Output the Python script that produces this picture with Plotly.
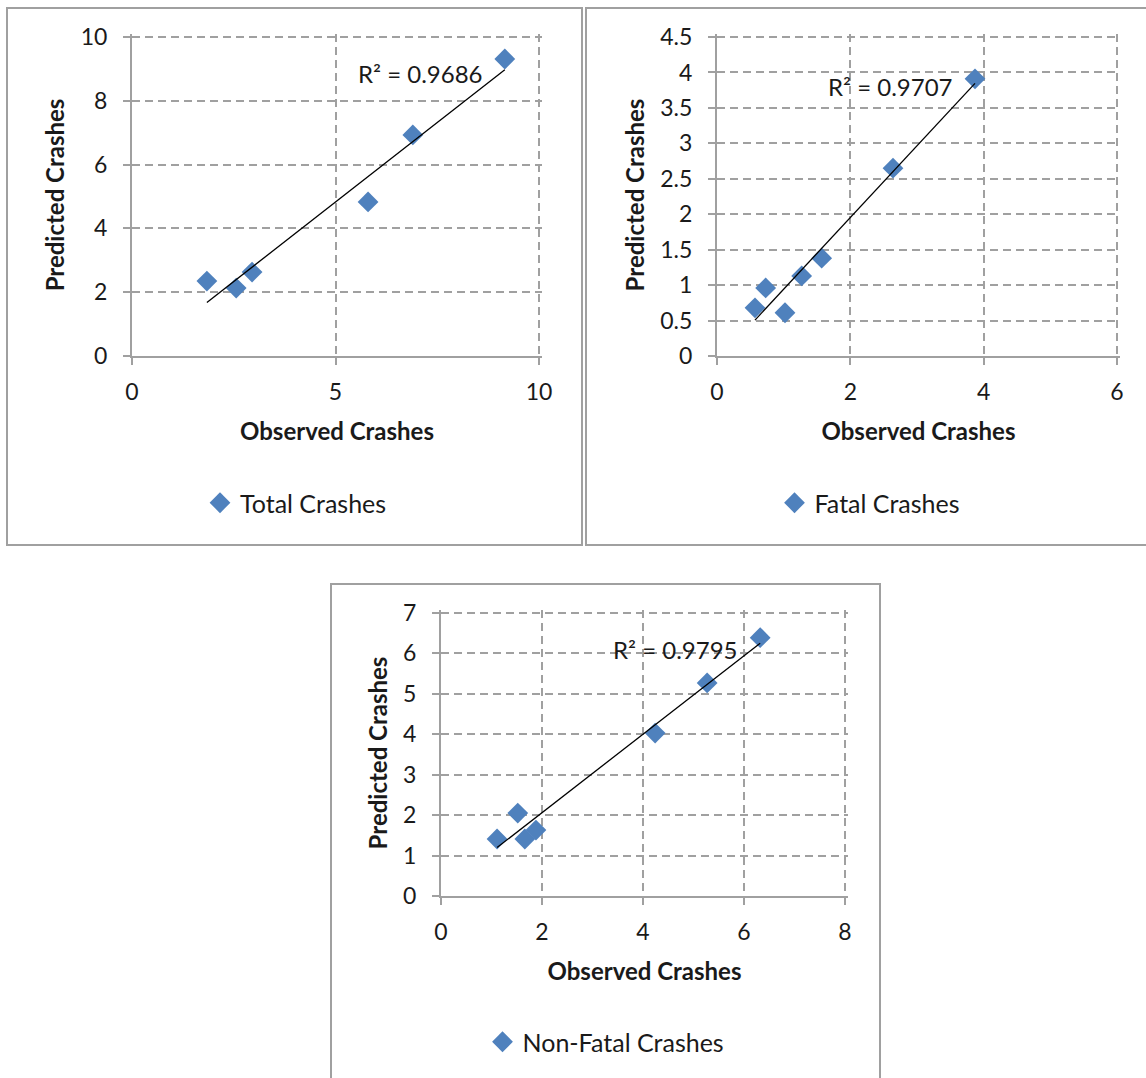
import numpy as np
import plotly.graph_objects as go

W, H = 1146, 1078

# ---------------- data ----------------
total_obs = [1.84, 2.56, 2.95, 5.80, 6.90, 9.16]
total_pred = [2.35, 2.13, 2.63, 4.83, 6.93, 9.31]

fatal_obs = [0.57, 0.73, 1.02, 1.27, 1.57, 2.64, 3.87]
fatal_pred = [0.68, 0.96, 0.61, 1.13, 1.38, 2.65, 3.91]

nonfatal_obs = [1.11, 1.52, 1.66, 1.88, 4.24, 5.27, 6.32]
nonfatal_pred = [1.41, 2.05, 1.41, 1.63, 4.03, 5.27, 6.39]

series_names = ["Total Crashes", "Fatal Crashes", "Non-Fatal Crashes"]
r2_labels = ["R² = 0.9686", "R² = 0.9707", "R² = 0.9795"]
x_ranges = [[0, 10], [0, 6], [0, 8]]
y_ranges = [[0, 10], [0, 4.5], [0, 7]]
x_dticks = [5, 2, 2]
y_dticks = [2, 0.5, 1]
x_title = "Observed Crashes"
y_title = "Predicted Crashes"

# ---------------- style ----------------
FONT = "Lato, Carlito, Calibri, sans-serif"
TXT = "#1a1a1a"
GRID = "#a0a0a0"
BLUE = "#4f81bd"
EXT = 3  # px added beyond the last tick so its gridline is drawn


def px_x(p):
    return p / W


def px_y(p):
    return 1 - p / H


# plot-area pixel boxes (left, right, top, bottom)
areas = [(132, 539, 37, 356), (717, 1117, 37, 356), (441, 845, 613, 896)]
legend_pos = [(296, 503), (870, 503), (606, 1042)]
r2_pos = [(7.1, 8.85), (2.6, 3.8), (4.64, 6.1)]

fig = go.Figure()
datasets = [(total_obs, total_pred), (fatal_obs, fatal_pred), (nonfatal_obs, nonfatal_pred)]

for i, (xs, ys) in enumerate(datasets):
    sfx = "" if i == 0 else str(i + 1)
    xa, ya = "x" + sfx, "y" + sfx
    lg = "legend" + sfx
    fig.add_trace(go.Scatter(
        x=xs, y=ys, mode="markers", name=series_names[i],
        marker=dict(symbol="diamond", size=16, color=BLUE),
        xaxis=xa, yaxis=ya, legend=lg, showlegend=True, cliponaxis=False))
    # linear trendline fitted to the data
    xa_np, ya_np = np.array(xs), np.array(ys)
    m, b = np.polyfit(xa_np, ya_np, 1)
    xt = np.array([xa_np.min(), xa_np.max()])
    fig.add_trace(go.Scatter(
        x=xt, y=m * xt + b, mode="lines", line=dict(color="black", width=1.3),
        xaxis=xa, yaxis=ya, showlegend=False, hoverinfo="skip"))

    l, r, t, btm = areas[i]
    xr, yr = x_ranges[i], y_ranges[i]
    x_ext = EXT * (xr[1] - xr[0]) / (r - l)
    y_ext = EXT * (yr[1] - yr[0]) / (btm - t)
    axis_common = dict(
        showgrid=True, gridcolor=GRID, griddash="8px,5px", gridwidth=1.6,
        showline=True, linecolor=GRID, linewidth=2,
        ticks="outside", ticklen=7, tickcolor=GRID, tickwidth=2,
        tickfont=dict(family=FONT, size=23, color=TXT),
        zeroline=False, automargin=False, fixedrange=True)
    fig.layout["xaxis" + sfx] = dict(
        domain=[px_x(l), px_x(r + EXT)], range=[xr[0], xr[1] + x_ext],
        dtick=x_dticks[i], tick0=0, anchor=ya, ticklabelstandoff=7,
        title=dict(text="<b>" + x_title + "</b>", standoff=20,
                   font=dict(family=FONT, size=24, color=TXT)),
        **axis_common)
    fig.layout["yaxis" + sfx] = dict(
        domain=[px_y(btm), px_y(t - EXT)], range=[yr[0], yr[1] + y_ext],
        dtick=y_dticks[i], tick0=0, anchor=xa, ticklabelstandoff=11,
        title=dict(text="<b>" + y_title + "</b>", standoff=9,
                   font=dict(family=FONT, size=24, color=TXT)),
        **axis_common)
    lx, ly = legend_pos[i]
    fig.layout[lg] = dict(
        x=px_x(lx), y=px_y(ly), xanchor="center", yanchor="middle",
        orientation="h", font=dict(family=FONT, size=25, color=TXT),
        bgcolor="rgba(0,0,0,0)", itemwidth=30)
    ax_, ay_ = r2_pos[i]
    fig.add_annotation(x=ax_, y=ay_, xref=xa, yref=ya, text=r2_labels[i],
                       showarrow=False, xanchor="center", yanchor="middle",
                       font=dict(family=FONT, size=24, color=TXT))

# chart frames
frames = [(7, 582, 8, 545), (586, 1160, 8, 545), (331, 880, 584, 1090)]
for (l, r, t, btm) in frames:
    fig.add_shape(type="rect", xref="paper", yref="paper",
                  x0=px_x(l), x1=px_x(r), y0=px_y(btm), y1=px_y(t),
                  line=dict(color="#a0a0a0", width=2), layer="below")

fig.update_layout(
    width=W, height=H, margin=dict(l=0, r=0, t=0, b=0),
    paper_bgcolor="white", plot_bgcolor="white",
    font=dict(family=FONT, color=TXT))

fig.write_html("out.html", config={"displayModeBar": False},
               post_script="document.body.style.margin='0';document.body.style.overflow='hidden';")
